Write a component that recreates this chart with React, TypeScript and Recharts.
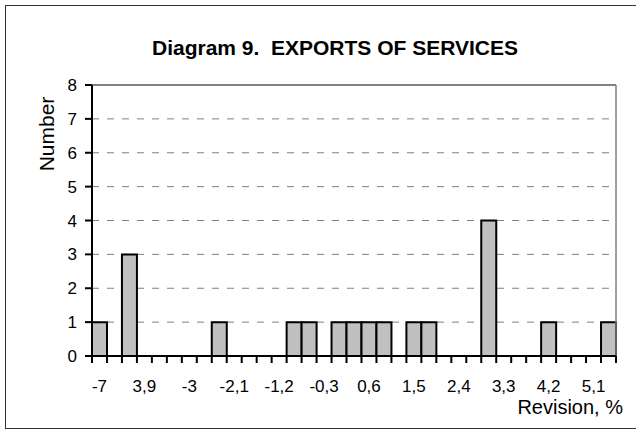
import React from 'react';
import { BarChart, Bar, XAxis, YAxis, CartesianGrid } from 'recharts';

// bin labels along the x axis (only every third one is printed)
const binLabels = [
  '-7', '-4,5', '-4,2', '3,9', '-3,6', '-3,3', '-3', '-2,7', '-2,4', '-2,1',
  '-1,8', '-1,5', '-1,2', '-0,9', '-0,6', '-0,3', '0', '0,3', '0,6', '0,9',
  '1,2', '1,5', '1,8', '2,1', '2,4', '2,7', '3', '3,3', '3,6', '3,9',
  '4,2', '4,5', '4,8', '5,1', '5,4',
];

// number of revisions falling in each bin
const counts = [
  1, 0, 3, 0, 0, 0, 0, 0, 1, 0,
  0, 0, 0, 1, 1, 0, 1, 1, 1, 1,
  0, 1, 1, 0, 0, 0, 4, 0, 0, 0,
  1, 0, 0, 0, 1,
];

const yTicks = [0, 1, 2, 3, 4, 5, 6, 7, 8];
const labelEvery = 3;

const chartData = binLabels.map((label, i) => ({ bin: i, label, count: counts[i] }));

const font = '"Liberation Sans", Arial, sans-serif';

// layout
const W = 636;
const H = 432;
const margin = { top: 84, right: 19, left: 32, bottom: 75 };
const yAxisWidth = 60;
const rightAxisWidth = 1;
const plotWidth = W - margin.left - margin.right - yAxisWidth - rightAxisWidth;
const halfBand = plotWidth / binLabels.length / 2;

const tickStyle = { stroke: '#000', strokeWidth: 2, fill: 'none' };

// tick marks on the bin edges, label under every third bin
const BinTick = (props: any) => {
  const x = Number(props.x);
  const y = Number(props.y);
  const index = Number(props.index);
  const last = index === binLabels.length - 1;
  const left = x - halfBand;
  const right = x + halfBand;
  return (
    <g>
      <path
        d={`M${left},${y}L${left},${y + 7}` + (last ? `M${right},${y}L${right},${y + 7}` : '')}
        style={tickStyle}
      />
      {index % labelEvery === 0 && (
        <text x={x} y={y + 36} textAnchor="middle" fontSize={17} style={{ fill: '#000', stroke: 'none' }}>
          {binLabels[index]}
        </text>
      )}
    </g>
  );
};

const CountTick = (props: any) => {
  const x = Number(props.x);
  const y = Number(props.y);
  return (
    <g>
      <path d={`M${x - 7},${y}L${x},${y}`} style={tickStyle} />
      <text
        x={x - 15}
        y={y}
        dy="0.355em"
        textAnchor="end"
        fontSize={17}
        style={{ fill: '#000', stroke: 'none' }}
      >
        {props.payload?.value}
      </text>
    </g>
  );
};

const App: React.FC = () => {
  return (
    <div
      style={{
        position: 'fixed',
        left: 0,
        top: 0,
        width: W,
        height: H,
        background: '#fff',
        fontFamily: font,
        overflow: 'hidden',
      }}
    >
      <div
        style={{
          position: 'absolute',
          left: 5,
          top: 5,
          width: 650,
          height: 422,
          border: '1.5px solid #333',
        }}
      />
      <div
        style={{
          position: 'absolute',
          left: 135,
          width: 400,
          top: 38,
          textAlign: 'center',
          fontSize: 21,
          lineHeight: '20px',
          fontWeight: 'bold',
          whiteSpace: 'pre',
        }}
      >
        {'Diagram 9.  EXPORTS OF SERVICES'}
      </div>
      <div
        style={{
          position: 'absolute',
          left: 46,
          top: 134,
          fontSize: 21,
          lineHeight: '21px',
          transform: 'translate(-50%, -50%) rotate(-90deg)',
          whiteSpace: 'nowrap',
        }}
      >
        Number
      </div>
      <div
        style={{
          position: 'absolute',
          right: 13,
          top: 397,
          fontSize: 20,
          lineHeight: '20px',
          whiteSpace: 'nowrap',
        }}
      >
        Revision, %
      </div>

      <div style={{ position: 'absolute', left: 0, top: 0 }}>
        <BarChart
          width={W}
          height={H}
          data={chartData}
          margin={margin}
          barCategoryGap={0}
          barGap={0}
        >
          <CartesianGrid
            xAxisId="cat"
            yAxisId="left"
            vertical={false}
            stroke="#808080"
            strokeDasharray="7 8"
          />
          <XAxis
            xAxisId="top"
            orientation="top"
            dataKey="bin"
            height={1}
            tick={false}
            tickLine={false}
            axisLine={{ stroke: '#808080', strokeWidth: 2 }}
          />
          <YAxis
            yAxisId="right"
            orientation="right"
            domain={[0, 8]}
            width={rightAxisWidth}
            tick={false}
            tickLine={false}
            axisLine={{ stroke: '#808080', strokeWidth: 1.5 }}
          />
          <Bar
            xAxisId="cat"
            yAxisId="left"
            dataKey="count"
            fill="#C0C0C0"
            stroke="#000"
            strokeWidth={2}
            isAnimationActive={false}
          />
          <XAxis
            xAxisId="cat"
            dataKey="bin"
            height={1}
            interval={0}
            tickLine={false}
            tickSize={0}
            tickMargin={0}
            axisLine={{ stroke: '#000', strokeWidth: 2 }}
            tick={BinTick}
          />
          <YAxis
            yAxisId="left"
            domain={[0, 8]}
            ticks={yTicks}
            interval={0}
            width={yAxisWidth}
            tickSize={0}
            tickMargin={0}
            tickLine={false}
            axisLine={{ stroke: '#000', strokeWidth: 2 }}
            tick={CountTick}
          />
        </BarChart>
      </div>
    </div>
  );
};

export default App;
